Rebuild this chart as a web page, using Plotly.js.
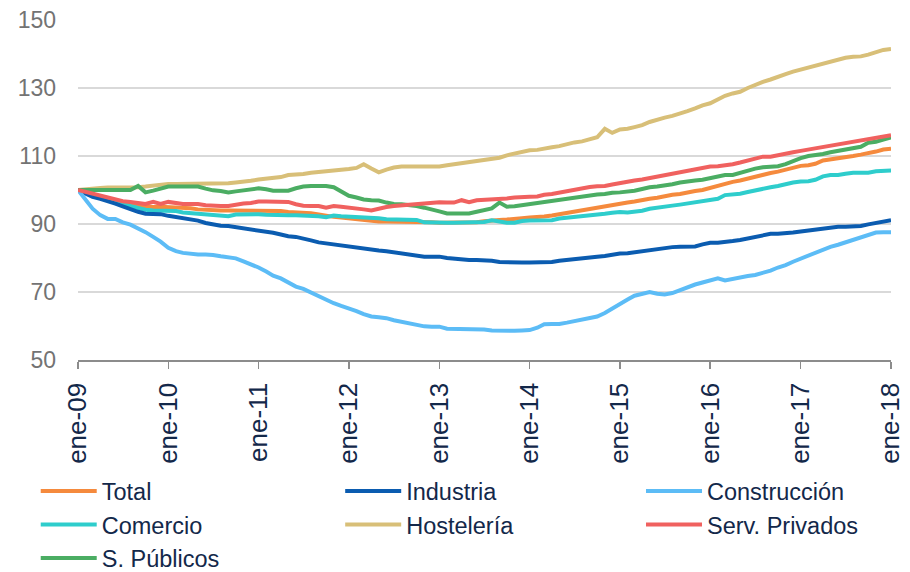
<!DOCTYPE html>
<html>
<head>
<meta charset="utf-8">
<script src="https://cdn.plot.ly/plotly-3.0.1.min.js"></script>
<style>html,body{margin:0;padding:0;background:#fff;}#chart{width:910px;height:572px;}</style>
</head>
<body>
<div id="chart"></div>
<script>
// Monthly index, ene-09 .. ene-18 (109 months)
var startYear = 2009;
var tickLabels = ["ene-09","ene-10","ene-11","ene-12","ene-13","ene-14","ene-15","ene-16","ene-17","ene-18"];
var tickDates = ["2009-01-01","2010-01-01","2011-01-01","2012-01-01","2013-01-01","2014-01-01","2015-01-01","2016-01-01","2017-01-01","2018-01-01"];

var total = [100,99.2,98.4,97.7,97,96.5,96,95.6,95.3,95.1,95,95.1,95,94.9,94.8,94.6,94.3,94.1,94,94,94,94,94,94,94,
94,94,93.8,93.5,93.4,93.3,93.2,92.8,92.4,92.1,91.9,91.6,91.4,91,90.7,90.7,90.7,90.7,90.7,90.7,90.7,90.6,90.5,90.4,
90.4,90.4,90.4,90.4,90.5,90.8,91.1,91.2,91.3,91.4,91.7,91.9,92,92.2,92.5,92.9,93.3,93.6,94,94.3,94.7,95.1,95.6,96.1,
96.3,96.6,97.1,97.4,97.7,98.2,98.6,98.8,99.3,99.7,100,100.6,101.3,102,102.4,102.8,103.4,103.9,104.4,105,105.4,105.9,106.6,107.1,
107.3,107.7,108.7,109,109.1,109.6,110,110.4,110.7,111.3,111.9,112.1];

var industria = [100,98.8,98,97.4,96.8,96,95.2,94.3,93.6,93,92.9,92.9,92.4,92,91.6,91.4,91,90.3,89.9,89.5,89.4,89.1,88.7,88.4,88,
87.8,87.4,86.9,86.4,86.2,85.8,85.2,84.6,84.3,84,83.5,83.3,83,82.7,82.3,82.2,82,81.7,81.3,80.9,80.6,80.4,80.4,80.4,
80,79.8,79.5,79.4,79.4,79.4,79.2,78.8,78.7,78.7,78.7,78.7,78.7,78.7,78.8,79.2,79.5,79.6,79.9,80.2,80.4,80.6,81,81.3,
81.4,81.7,82.1,82.4,82.6,82.9,83.2,83.3,83.3,83.4,84,84.5,84.5,84.6,85,85.3,85.7,86.1,86.6,87.1,87.1,87.2,87.5,87.8,
88.1,88.3,88.6,88.9,89.2,89.2,89.3,89.4,89.9,90.4,90.7,91.1];

var construccion = [100,97,94.5,92.6,91.5,91.5,90.5,89.8,88.8,87.6,86.2,84.8,83,82,81.5,81.2,81,81,80.9,80.5,80.1,79.9,79,78.2,77.2,
76,74.8,74,72.8,71.6,70.9,69.8,68.6,67.5,66.7,65.9,65.2,64.4,63.5,62.8,62.6,62.3,61.7,61.2,60.9,60.5,59.9,59.8,59.8,
59.2,59.2,59.2,59.2,59.2,59,58.7,58.6,58.6,58.6,58.7,58.8,59.5,60.5,60.6,60.6,61,61.5,62,62.3,62.8,63.8,65.2,66.7,
67.8,68.9,69.6,70,69.5,69.3,69.7,70.6,71.5,72.2,72.8,73.4,74,73.4,73.9,74.4,74.7,75,75.6,76.3,77.2,77.9,78.9,79.8,
80.9,81.8,82.5,83.3,83.9,84.6,85.3,85.9,86.8,87.5,87.6,87.6];

var comercio = [100,99.3,98.5,97.8,97.2,96.6,95.9,95.3,94.7,94.2,94,93.9,93.9,93.8,93.4,93.2,93.1,92.9,92.6,92.3,92.3,92.8,92.9,92.9,92.9,
92.7,92.6,92.6,92.6,92.6,92.5,92.5,92.3,92,92.5,92.3,92.2,92.1,92,92,91.7,91.4,91.4,91.4,91.4,91.2,90.5,90.4,90.4,
90.4,90.4,90.4,90.4,90.4,90.6,91.1,90.6,90.4,90.4,90.9,91,91,91,91.1,91.6,91.8,92,92.3,92.6,92.8,93,93.3,93.5,
93.4,93.6,93.9,94.5,94.9,95.2,95.4,95.7,96,96.3,96.7,97,97.4,98.5,98.6,98.9,99.4,99.9,100.5,100.8,101.2,101.8,102.2,102.5,
102.6,103,104,104.4,104.4,104.8,105.1,105.1,105.1,105.5,105.7,105.7];

var hosteleria = [100,100.3,100.5,100.6,100.7,100.7,100.7,100.7,100.8,101,101.3,101.6,101.8,101.8,101.8,101.8,101.8,101.8,101.8,101.9,102,102.2,102.4,102.7,103.1,
103.3,103.4,103.8,104.4,104.5,104.7,105.1,105.3,105.4,105.8,106,106.2,106.5,107.6,106.3,105.2,106,106.6,106.9,106.9,106.9,106.9,106.9,106.9,
107.3,107.6,107.8,108.1,108.6,109,109.1,109.5,110.2,110.8,111.3,111.7,111.8,112.3,112.6,112.9,113.5,114,114.3,114.9,115.5,118,116.8,117.8,
118,118.5,119.1,120,120.8,121.3,121.8,122.4,123.2,124,124.9,125.5,126.6,127.7,128.4,128.9,130,131,131.8,132.5,133.4,134.1,134.8,135.4,
136,136.6,137.3,137.9,138.3,138.9,139.2,139.3,139.8,140.5,141.2,141.5];

var servPrivados = [100,99.4,98.8,98.3,97.8,97.2,96.7,96.5,96.3,95.9,96.5,95.9,96.5,96.2,95.9,95.9,95.9,95.5,95.3,95.3,95.3,95.7,96,96.2,96.6,
96.6,96.6,96.6,96.5,95.8,95.4,95.3,95.3,94.8,95.3,95.1,94.9,94.6,94.3,94,94.6,95,95.3,95.5,95.7,95.8,95.9,96,96.4,
96.3,96.3,97,96.4,97,97.1,97.2,97.3,97.5,97.8,98,98,98.1,98.6,98.8,99.2,99.7,100.2,100.5,100.9,101.1,101.2,101.6,102.1,
102.4,102.8,103.1,103.5,104,104.5,104.9,105.2,105.6,105.9,106.3,106.9,107,107.2,107.6,108.1,108.6,109.2,109.8,109.8,110.3,110.7,111.1,111.5,
111.9,112.3,112.8,113.2,113.6,113.9,114.1,114.5,115.1,115.4,115.7,116.1];

var sPublicos = [100,100,100,100,100,100,100,100,101.2,99.3,99.8,100.5,101,101,101,101,101,100.4,99.9,99.7,99.3,99.6,100,100.2,100.5,
100.2,99.8,99.8,99.8,100.5,101,101.2,101.2,101.2,100.8,99.5,98.3,97.8,97.2,97,96.9,96.3,95.9,95.8,95.6,95.3,94.8,94.4,93.7,
93.1,93.1,93.1,93.1,93.6,94,94.6,96.3,95.1,95.2,95.5,95.9,96.3,96.6,97,97.3,97.6,97.8,98.2,98.5,98.7,98.8,99.2,99.3,
99.5,99.8,100.3,100.8,101,101.2,101.7,102.2,102.6,102.8,103,103.4,103.9,104.4,104.4,105.1,105.7,106.3,106.7,106.9,107,107.6,108.5,109.4,
110,110.2,110.6,111.1,111.5,112,112.2,112.7,113.9,114.2,114.8,115.5];

var seriesNames = ["Total","Industria","Construcción","Comercio","Hostelería","Serv. Privados","S. Públicos"];
var seriesData = [total, industria, construccion, comercio, hosteleria, servPrivados, sPublicos];
var seriesColors = ["#f58a3d","#0b5cb0","#5cbcf6","#2ecdcc","#d8bf78","#f0615f","#4bad63"];
// legend column of each series (reference legend is laid out row by row in 3 columns)
var legendColumn = ["legend","legend2","legend3","legend","legend2","legend3","legend"];

var months = [];
for (var i = 0; i < total.length; i++) {
  var y = startYear + Math.floor(i / 12);
  var m = (i % 12) + 1;
  months.push(y + "-" + (m < 10 ? "0" + m : m) + "-01");
}

var traces = seriesNames.map(function (n, k) {
  return {
    type: "scatter", mode: "lines", name: n, x: months, y: seriesData[k],
    line: {color: seriesColors[k], width: 4}, hoverinfo: "x+y+name",
    legend: legendColumn[k], legendrank: k + 1
  };
});
var order = [0,3,1,2,4,6,5];
var drawTraces = order.map(function(k){ return traces[k]; });

function legendAt(xpos) {
  return {
    orientation: "v", x: xpos, xanchor: "left", y: -0.321, yanchor: "top",
    font: {size: 23.5, color: "#13284a", family: "Liberation Sans, Arial, sans-serif"},
    itemwidth: 56, traceorder: "normal", tracegroupgap: 0, bgcolor: "rgba(0,0,0,0)"
  };
}

var layout = {
  width: 910, height: 572,
  margin: {l: 78, r: 19, t: 20, b: 212, autoexpand: false},
  paper_bgcolor: "#ffffff", plot_bgcolor: "#ffffff",
  font: {family: "Liberation Sans, Arial, sans-serif", color: "#13284a"},
  showlegend: true,
  legend: legendAt(-0.052),
  legend2: legendAt(0.3225),
  legend3: legendAt(0.6925),
  xaxis: {
    type: "date", automargin: false,
    range: ["2009-01-01", "2018-01-01"],
    tickvals: tickDates, ticktext: tickLabels,
    tickangle: -90,
    tickfont: {size: 26, color: "#13284a", family: "Liberation Sans, Arial, sans-serif"},
    showgrid: false, zeroline: false,
    showline: true, linecolor: "#8c8c8c", linewidth: 1.5,
    ticks: "outside", ticklen: 7, tickwidth: 1.5, tickcolor: "#8c8c8c",
    ticklabelstandoff: 4
  },
  yaxis: {
    automargin: false,
    range: [50, 150],
    tickvals: [50, 70, 90, 110, 130, 150],
    tickfont: {size: 23, color: "#737373", family: "Liberation Sans, Arial, sans-serif"},
    showgrid: true, gridcolor: "#d9d9d9", gridwidth: 1.5,
    zeroline: false, showline: false, ticks: "", ticklabelstandoff: 21
  }
};

Plotly.newPlot("chart", drawTraces, layout, {staticPlot: true, displayModeBar: false});
</script>
</body>
</html>
